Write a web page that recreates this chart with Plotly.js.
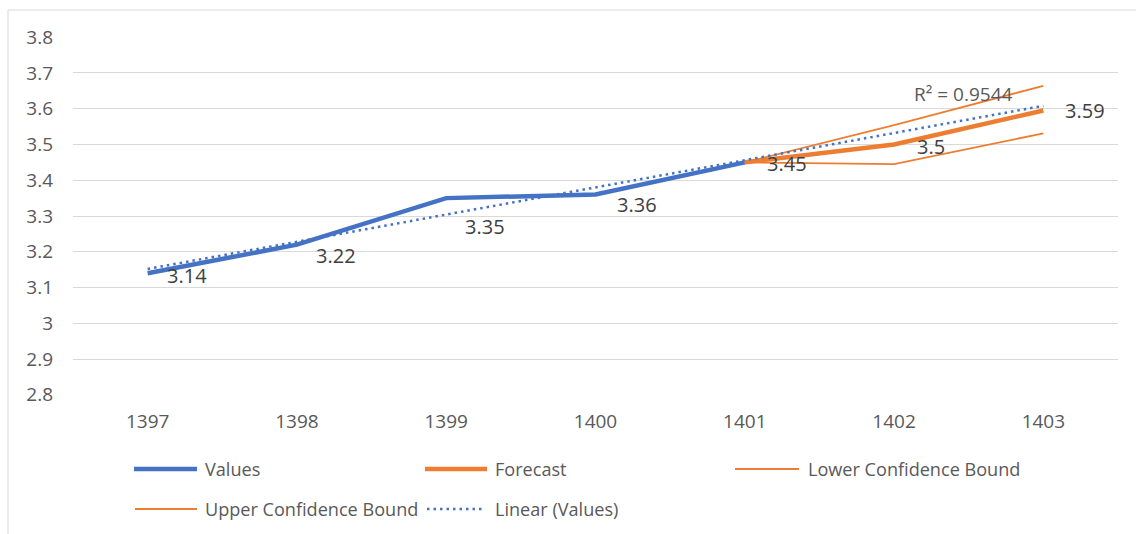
<!DOCTYPE html>
<html>
<head>
<meta charset="utf-8">
<script src="https://cdn.plot.ly/plotly-3.0.1.min.js"></script>
<style>html,body{margin:0;padding:0;background:#fff;}#chart{width:1136px;height:534px;}</style>
</head>
<body>
<div id="chart"></div>
<script>
// ---- data ----
const years = ['1397', '1398', '1399', '1400', '1401', '1402', '1403'];
const valueYears = ['1397', '1398', '1399', '1400', '1401'];
const values = [3.14, 3.22, 3.35, 3.36, 3.45];
const forecastYears = ['1401', '1402', '1403'];
const forecast = [3.45, 3.50, 3.595];
const lowerBound = [3.45, 3.445, 3.531];
const upperBound = [3.45, 3.554, 3.664];
const linearTrend = [3.152, 3.228, 3.304, 3.380, 3.456, 3.532, 3.608];
const rSquaredText = 'R² = 0.9544';
const labelYears = ['1397', '1398', '1399', '1400', '1401', '1402', '1403'];
const labelValues = [3.14, 3.22, 3.35, 3.36, 3.45, 3.50, 3.595];
const labelTexts = ['3.14', '3.22', '3.35', '3.36', '3.45', '3.5', '3.59'];
const yTicks = [2.8, 2.9, 3.0, 3.1, 3.2, 3.3, 3.4, 3.5, 3.6, 3.7, 3.8];
const yTickText = ['2.8', '2.9', '3', '3.1', '3.2', '3.3', '3.4', '3.5', '3.6', '3.7', '3.8'];
const legendNames = ['Values', 'Forecast', 'Lower Confidence Bound', 'Upper Confidence Bound', 'Linear (Values)'];

// ---- styles ----
const BLUE = '#4472C4', ORANGE = '#ED7D31';
const FONT = 'Open Sans, Noto Sans, sans-serif';
const labelShift = [[17, -2], [17, -11], [17, -28], [19, -10], [20, -1], [21, -2], [20, 0]];

const W = 1136, H = 534;
const M = {l: 73, r: 18, t: 37, b: 139};
const PW = W - M.l - M.r, PH = H - M.t - M.b;
const px = x => (x - M.l) / PW;
const py = y => (H - M.b - y) / PH;

const traces = [
  {x: valueYears, y: values, mode: 'lines', line: {color: BLUE, width: 4.5}, name: legendNames[0]},
  {x: forecastYears, y: forecast, mode: 'lines', line: {color: ORANGE, width: 4.5}, name: legendNames[1]},
  {x: forecastYears, y: lowerBound, mode: 'lines', line: {color: ORANGE, width: 1.8}, name: legendNames[2]},
  {x: forecastYears, y: upperBound, mode: 'lines', line: {color: ORANGE, width: 1.8}, name: legendNames[3]},
  {x: years, y: linearTrend, mode: 'lines', line: {color: BLUE, width: 2.5, dash: '2.5px,4px'}, name: legendNames[4]}
];

const annotations = labelTexts.map((t, i) => ({
  x: years.indexOf(labelYears[i]), y: labelValues[i], xref: 'x', yref: 'y', text: t, showarrow: false,
  xanchor: 'left', yanchor: 'middle', xshift: labelShift[i][0], yshift: labelShift[i][1],
  font: {family: FONT, size: 20, color: '#404040'}
}));
annotations.push({
  x: px(912), y: py(94), xref: 'paper', yref: 'paper', text: rSquaredText, showarrow: false,
  xanchor: 'left', yanchor: 'middle', font: {family: FONT, size: 19, color: '#595959'}
});

// manual legend
const legendItems = [
  {name: legendNames[0], x0: 134, x1: 197, tx: 203, y: 469, color: BLUE, width: 4.5, dash: 'solid'},
  {name: legendNames[1], x0: 425, x1: 487, tx: 493, y: 469, color: ORANGE, width: 4.5, dash: 'solid'},
  {name: legendNames[2], x0: 735, x1: 799, tx: 806, y: 469, color: ORANGE, width: 1.8, dash: 'solid'},
  {name: legendNames[3], x0: 135, x1: 197, tx: 203, y: 509, color: ORANGE, width: 1.8, dash: 'solid'},
  {name: legendNames[4], x0: 427, x1: 484, tx: 493, y: 509, color: BLUE, width: 2.5, dash: '2.5px,4px'}
];
const shapes = [{
  type: 'rect', xref: 'paper', yref: 'paper', x0: px(8), x1: px(1145), y0: py(545), y1: py(10),
  line: {color: '#d9d9d9', width: 1}, fillcolor: 'rgba(0,0,0,0)', layer: 'below'
}];
legendItems.forEach(it => {
  shapes.push({type: 'line', xref: 'paper', yref: 'paper', x0: px(it.x0), x1: px(it.x1), y0: py(it.y), y1: py(it.y),
    line: {color: it.color, width: it.width, dash: it.dash}});
  annotations.push({x: px(it.tx), y: py(it.y), xref: 'paper', yref: 'paper', text: it.name, showarrow: false,
    xanchor: 'left', yanchor: 'middle', font: {family: FONT, size: 18.1, color: '#595959'}});
});

const layout = {
  width: W, height: H, margin: M, paper_bgcolor: '#fff', plot_bgcolor: '#fff',
  showlegend: false,
  font: {family: FONT, color: '#595959'},
  xaxis: {type: 'category', categoryarray: years, range: [-0.5, 6.5], showgrid: false, zeroline: false,
    showline: false, ticks: '', ticklabelstandoff: 13, tickfont: {family: FONT, size: 19, color: '#595959'}, fixedrange: true},
  yaxis: {range: [2.7995, 3.8005], tickvals: yTicks, ticktext: yTickText, showgrid: true, gridcolor: '#d9d9d9', gridwidth: 1,
    zeroline: false, showline: false, ticks: '', ticklabelstandoff: 19, tickfont: {family: FONT, size: 19, color: '#595959'}, fixedrange: true},
  annotations: annotations,
  shapes: shapes
};

Plotly.newPlot('chart', traces, layout, {displayModeBar: false, staticPlot: true});
</script>
</body>
</html>
